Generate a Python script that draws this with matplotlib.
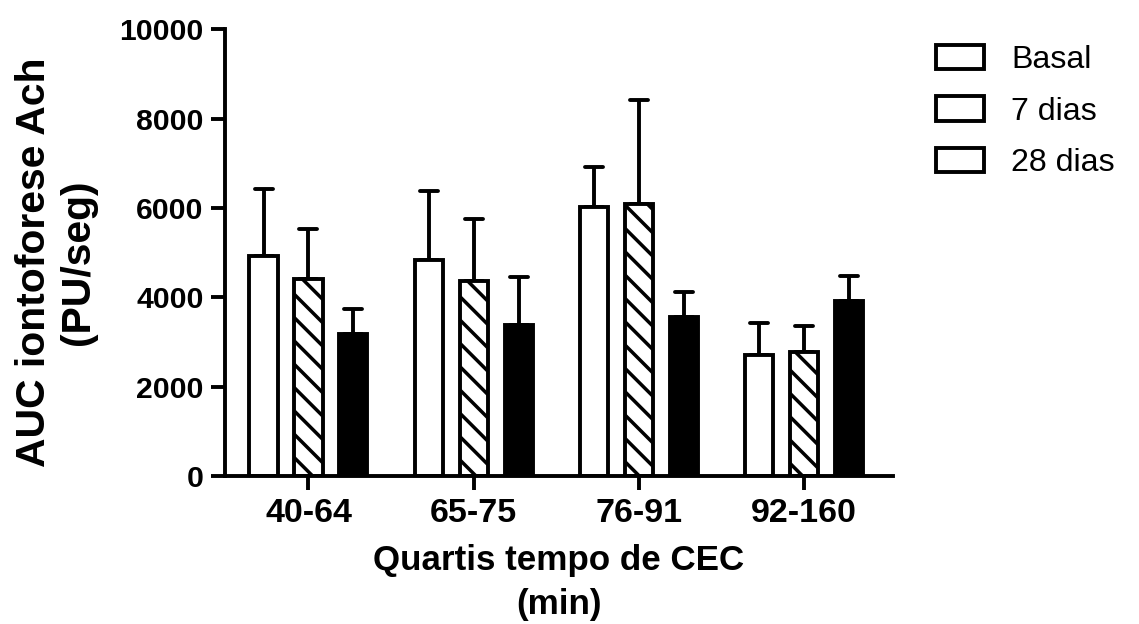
import numpy as np
import matplotlib
matplotlib.use("Agg")
import matplotlib.pyplot as plt
from matplotlib.patches import Patch
from matplotlib.markers import MarkerStyle

# Quartiles of CPB time (min)
categories = ["40-64", "65-75", "76-91", "92-160"]
series = ["Basal", "7 dias", "28 dias"]

# Mean AUC of ACh iontophoresis (PU/s) and upper error (SD)
basal_mean = [4920, 4830, 6020, 2710]
basal_err = [1500, 1540, 900, 710]
dias7_mean = [4410, 4360, 6100, 2780]
dias7_err = [1130, 1400, 2320, 580]
dias28_mean = [3170, 3380, 3560, 3920]
dias28_err = [560, 1080, 550, 560]

yticks = [0, 2000, 4000, 6000, 8000, 10000]

plt.rcParams["font.family"] = ["Liberation Sans", "DejaVu Sans"]
plt.rcParams["hatch.linewidth"] = 1.8
plt.rcParams["hatch.color"] = "black"

DPI = 140
fig = plt.figure(figsize=(1139 / DPI, 624 / DPI), dpi=DPI)
ax = fig.add_axes([225 / 1139, 1 - 476 / 624, (893 - 225) / 1139, (476 - 29.3) / 624])

x = np.arange(len(categories))
offset = 0.272
width = 0.17
lw = 2.0

styles = [
    dict(facecolor="white", hatch=None),
    dict(facecolor="white", hatch="\\\\"),
    dict(facecolor="black", hatch=None),
]
means = [basal_mean, dias7_mean, dias28_mean]
errs = [basal_err, dias7_err, dias28_err]

for i, (m, e, st) in enumerate(zip(means, errs, styles)):
    xi = x + (i - 1) * offset
    ax.bar(xi, m, width, facecolor=st["facecolor"], edgecolor="black",
           linewidth=lw, hatch=st["hatch"], zorder=2)
    eb = ax.errorbar(xi, m, yerr=[np.zeros(len(m)), e], fmt="none",
                     ecolor="black", elinewidth=lw, capsize=4.6,
                     capthick=lw, zorder=1)
    for cap in eb[1]:
        cap.set_marker(MarkerStyle("_", capstyle="round"))

ax.set_xlim(-0.505, 3.537)
ax.set_ylim(0, 10000)
ax.set_yticks(yticks)
ax.set_yticklabels([str(t) for t in yticks])
ax.set_xticks(x)
ax.set_xticklabels(categories)

for side in ("top", "right"):
    ax.spines[side].set_visible(False)
for side in ("left", "bottom"):
    ax.spines[side].set_linewidth(lw)
    ax.spines[side].set_capstyle("projecting")

ax.tick_params(axis="y", length=7, width=lw, pad=4, labelsize=15.5)
ax.tick_params(axis="x", length=7, width=lw, pad=4.5, labelsize=17.5)
for lab in ax.get_xticklabels() + ax.get_yticklabels():
    lab.set_fontweight("bold")

ax.set_ylabel("AUC iontoforese Ach\n(PU/seg)", fontsize=21, fontweight="bold",
              linespacing=1.2)
ax.yaxis.label.set_verticalalignment("center")
ax.yaxis.set_label_coords(-0.2525, 0.478)
ax.set_xlabel("Quartis tempo de CEC\n(min)", fontsize=18, fontweight="bold",
              linespacing=1.4)
ax.xaxis.label.set_verticalalignment("top")
ax.xaxis.set_label_coords(0.5, -0.153)

handles = [Patch(facecolor="white", edgecolor="black", linewidth=lw, label=s)
           for s in series]
fig.legend(handles=handles, loc="upper left",
           bbox_to_anchor=(936 / 1139, 1 - 45 / 624), frameon=False,
           fontsize=16.5, borderpad=0, handlelength=1.5, handleheight=0.78,
           handletextpad=0.85, labelspacing=0.66, borderaxespad=0)

fig.savefig("out.png", dpi=DPI, facecolor="white")
